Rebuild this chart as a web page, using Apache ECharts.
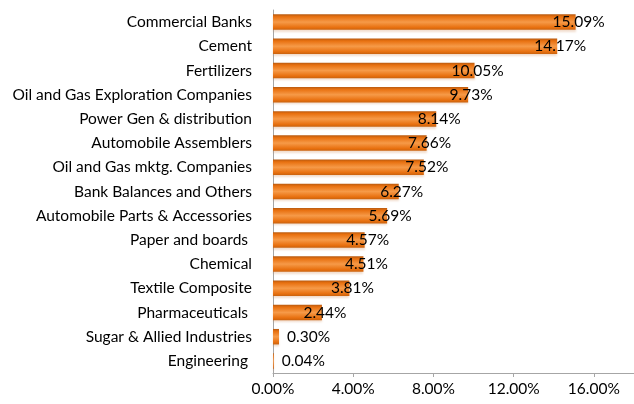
<!DOCTYPE html>
<html>
<head>
<meta charset="utf-8">
<script src="https://cdn.jsdelivr.net/npm/echarts@6/dist/echarts.min.js"></script>
<style>
html,body{margin:0;padding:0;background:#fff;}
#chart{width:634px;height:404px;}
</style>
</head>
<body>
<div id="chart"></div>
<script>
var categories = [
  'Commercial Banks',
  'Cement',
  'Fertilizers',
  'Oil and Gas Exploration Companies',
  'Power Gen & distribution',
  'Automobile Assemblers',
  'Oil and Gas mktg. Companies',
  'Bank Balances and Others',
  'Automobile Parts & Accessories',
  'Paper and boards ',
  'Chemical',
  'Textile Composite',
  'Pharmaceuticals ',
  'Sugar & Allied Industries',
  'Engineering '
];
var values = [15.09, 14.17, 10.05, 9.73, 8.14, 7.66, 7.52, 6.27, 5.69, 4.57, 4.51, 3.81, 2.44, 0.30, 0.04];
var xTicks = [0, 4, 8, 12, 16];

var FONT = 'Lato';
var chart = echarts.init(document.getElementById('chart'), null, {renderer: 'canvas'});

var barColor = new echarts.graphic.LinearGradient(0, 0, 0, 1, [
  {offset: 0, color: '#B85A10'},
  {offset: 0.15, color: '#E8700F'},
  {offset: 0.5, color: '#F69A48'},
  {offset: 0.85, color: '#E8700F'},
  {offset: 1, color: '#C9620E'}
]);

var seriesData = values.map(function (v) {
  var small = v < 1;
  return {
    value: v,
    label: small
      ? {position: 'right', distance: 8, align: 'left'}
      : {position: 'right', distance: 3, align: 'center'}
  };
});

chart.setOption({
  animation: false,
  backgroundColor: '#ffffff',
  grid: {left: 273, right: -3, top: 10, bottom: 31, containLabel: false},
  xAxis: {
    type: 'value',
    min: xTicks[0],
    max: 18,
    interval: xTicks[1] - xTicks[0],
    splitLine: {show: false},
    axisLine: {show: true, lineStyle: {color: '#A6A6A6', width: 1}},
    axisTick: {show: true, length: 4, lineStyle: {color: '#A6A6A6'}},
    axisLabel: {
      showMaxLabel: false,
      margin: 8,
      color: '#000',
      fontFamily: FONT,
      fontSize: 15.5,
      formatter: function (v) { return xTicks.indexOf(v) >= 0 ? v.toFixed(2) + '%' : ''; }
    }
  },
  yAxis: {
    type: 'category',
    data: categories,
    inverse: true,
    axisLine: {show: true, lineStyle: {color: '#A6A6A6', width: 1}},
    axisTick: {show: false},
    axisLabel: {
      margin: 21,
      color: '#000',
      fontFamily: FONT,
      fontSize: 15.5
    }
  },
  series: [{
    type: 'bar',
    data: seriesData,
    barCategoryGap: '36%',
    itemStyle: {
      color: barColor,
      shadowColor: 'rgba(200,120,60,0.25)',
      shadowBlur: 2,
      shadowOffsetY: 2
    },
    label: {
      show: true,
      color: '#000',
      fontFamily: FONT,
      fontSize: 15.5,
      formatter: function (p) { return p.value.toFixed(2) + '%'; }
    }
  }]
});
</script>
</body>
</html>
